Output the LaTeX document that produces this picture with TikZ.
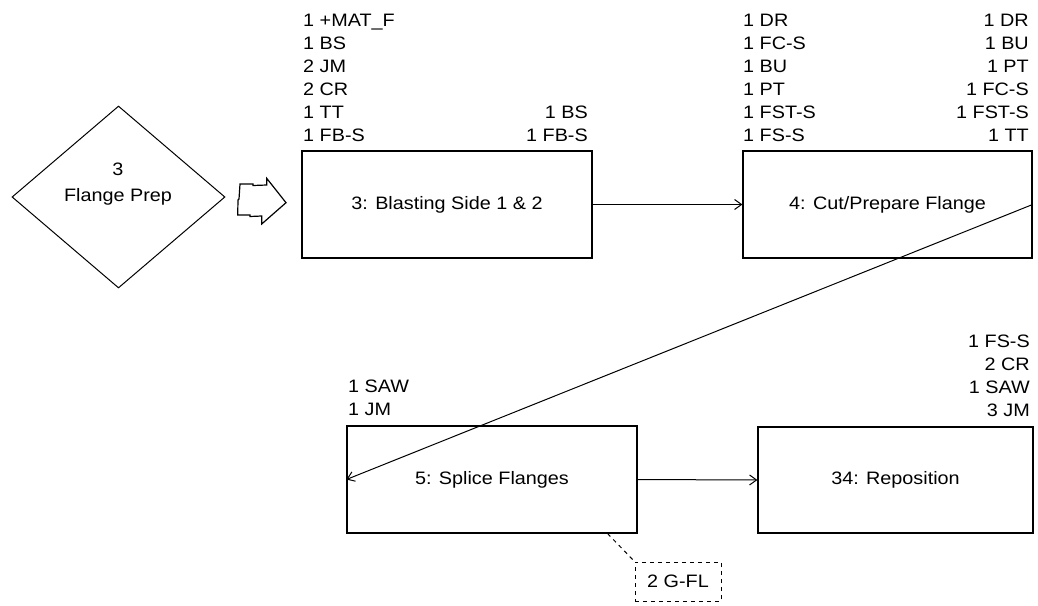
\documentclass[tikz,border=0pt]{standalone}
\usepackage{fontspec}
\setmainfont{Liberation Sans}[FakeStretch=1.1]
\usetikzlibrary{arrows.meta,shapes.geometric}
\begin{document}
\begin{tikzpicture}[x=1pt,y=-1pt,
  box/.style={draw, line width=1.2pt, inner sep=0, font=\fontsize{18}{23}\selectfont},
  lbl/.style={inner sep=0, align=left, font=\fontsize{18}{23}\selectfont},
  lblr/.style={inner sep=0, align=right, font=\fontsize{18}{23}\selectfont},
  conn/.style={line width=1pt, -{Straight Barb[length=7pt,width=10pt,line width=1pt]}},
  gdash/.style={draw, line width=1pt, dash pattern=on 4pt off 4pt, inner sep=0, font=\fontsize{18}{23}\selectfont}
]
\useasboundingbox[fill=white] (0,0) rectangle (1038,605);

% diamond
\node[draw, line width=1pt, shape=diamond, minimum width=213pt, minimum height=182pt, inner sep=0] (dia) at (118.5,197) {};
\node[lbl, align=center, font=\fontsize{18}{26}\selectfont] (diatxt) at (118,184.5) {3\\Flange Prep};

% block arrow
\draw[line width=1.2pt, line join=miter] (240,184) -- (253,184) -- (253,185.5) -- (266.7,185) -- (266.7,178.3)
  -- (286,202.7) -- (261.7,224) -- (261.7,216) -- (250,216.5) -- (250,215) -- (237.7,215) -- (238,200) -- (239,199) -- cycle;

% boxes
\node[box, minimum width=290pt, minimum height=107pt] (b3) at (447,204.5) {3: Blasting Side 1 \& 2};
\node[box, minimum width=289pt, minimum height=107pt] (b4) at (887.5,204.5) {4: Cut/Prepare Flange};
\node[box, minimum width=290pt, minimum height=107pt] (b5) at (492,479.5) {5: Splice Flanges};
\node[box, minimum width=275pt, minimum height=106pt] (b34) at (895.5,480) {34: Reposition};
\node[gdash, minimum width=86pt, minimum height=39pt] (g) at (678,581.5) {2 G-FL};

% resource labels
\node[lbl, anchor=north west] (l3) at (303,13.5) {1 +MAT\_F\\1 BS\\2 JM\\2 CR\\1 TT\\1 FB-S};
\node[lblr, anchor=north east] (r3) at (588,105.5) {1 BS\\1 FB-S};
\node[lbl, anchor=north west] (l4) at (743,13.5) {1 DR\\1 FC-S\\1 BU\\1 PT\\1 FST-S\\1 FS-S};
\node[lblr, anchor=north east] (r4) at (1029,13.5) {1 DR\\1 BU\\1 PT\\1 FC-S\\1 FST-S\\1 TT};
\node[lbl, anchor=north west] (l5) at (348,379.5) {1 SAW\\1 JM};
\node[lblr, anchor=north east] (r34) at (1030,334.5) {1 FS-S\\2 CR\\1 SAW\\3 JM};

% connectors
\draw[conn] (b3.east) -- (b4.west);
\draw[conn] (b4.east) -- (b5.west);
\draw[conn] (b5.east) -- (b34.west);
\draw[line width=1pt, dash pattern=on 4pt off 4pt] ([xshift=-30pt]b5.south east) -- (g.north west);
\end{tikzpicture}
\end{document}
